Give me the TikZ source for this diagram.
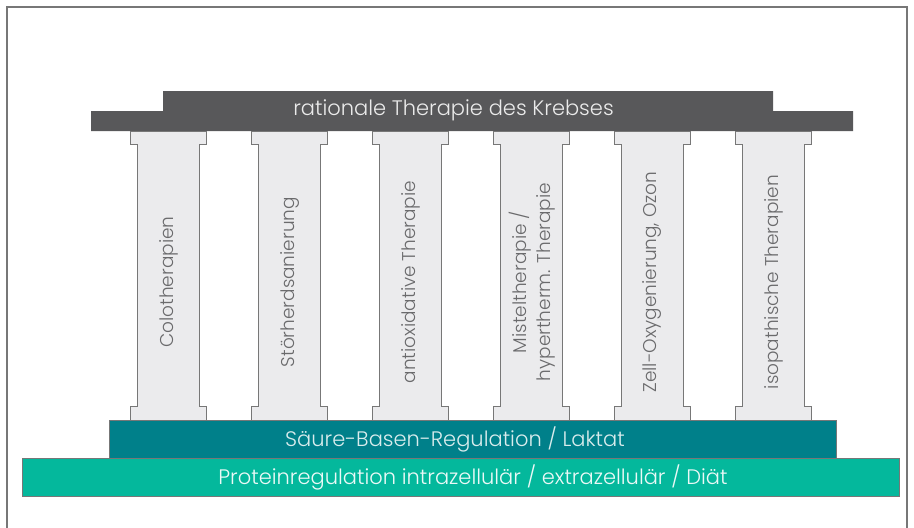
\documentclass[tikz,border=0pt]{standalone}
\usepackage{fontspec}
\setmainfont{Poppins}[UprightFont={* Light}]
\definecolor{roofgray}{HTML}{58585A}
\definecolor{colfill}{HTML}{EBEBED}
\definecolor{edgegray}{HTML}{777777}
\definecolor{coltext}{HTML}{6A6A6C}
\definecolor{tealbar}{HTML}{00808A}
\definecolor{greenbar}{HTML}{04B89C}
\begin{document}
\begin{tikzpicture}[x=1pt,y=-1pt,
  pillar/.style={fill=colfill,draw=edgegray,line width=1pt},
  pillartext/.style={rotate=90,text=coltext,font=\fontsize{18.5}{24}\selectfont,align=center},
  bar/.style={draw=edgegray,line width=1pt},
  bartext/.style={text=white,font=\fontsize{21}{24}\selectfont}]
\useasboundingbox (0,0) rectangle (914,528);
% outer frame (open at the bottom)
\draw[edgegray,line width=1.3pt] (7,528) -- (7,7) -- (907,7) -- (907,528);
% roof
\fill[roofgray] (91,111) -- (163,111) -- (163,91) -- (773,91) -- (773,111)
  -- (853,111) -- (853,131) -- (91,131) -- cycle;
\node[text=white!92!black,font=\fontsize{21}{24}\selectfont] (roof) at (453.5,110) {rationale Therapie des Krebses};
% pillars
\foreach \c in {168,289,410,531,652,773}{
  \draw[pillar] (\c-38,131) -- (\c+38,131) -- (\c+38,144) -- (\c+31,144)
    -- (\c+31,406) -- (\c+38,406) -- (\c+38,420) -- (\c-38,420)
    -- (\c-38,406) -- (\c-31,406) -- (\c-31,144) -- (\c-38,144) -- cycle;
}
\node[pillartext] (p1) at (169,282) {Colotherapien};
\node[pillartext] (p2) at (290,282) {Störherdsanierung};
\node[pillartext] (p3) at (411,282) {antioxidative Therapie};
\node[pillartext] (p4) at (532,282) {Misteltherapie /\\hypertherm. Therapie};
\node[pillartext] (p5) at (652,282) {Zell-Oxygenierung, Ozon};
\node[pillartext] (p6) at (774,282) {isopathische Therapien};
% foundation
\draw[bar,fill=tealbar] (109,420) rectangle (836,458);
\node[bartext,text=white!85!tealbar] (acid) at (455,439) {Säure-Basen-Regulation / Laktat};
\draw[bar,fill=greenbar] (22,458) rectangle (899,496);
\node[bartext,text=white!92!greenbar] (protein) at (473,477) {Proteinregulation intrazellulär / extrazellulär / Diät};
\end{tikzpicture}
\end{document}
